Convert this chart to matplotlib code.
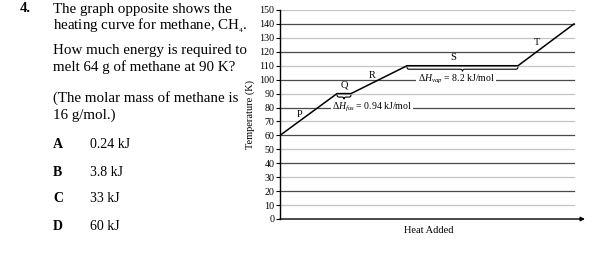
import matplotlib
matplotlib.use("Agg")
import matplotlib.pyplot as plt
from matplotlib.path import Path
from matplotlib.patches import PathPatch

plt.rcParams['font.family'] = ['Liberation Serif', 'DejaVu Serif']
plt.rcParams['mathtext.fontset'] = 'custom'
plt.rcParams['mathtext.rm'] = 'Liberation Serif'
plt.rcParams['mathtext.it'] = 'Liberation Serif:italic'

# Data
heat = [0, 57, 71, 127, 238, 294]
temp = [60, 90, 90, 110, 110, 140]
yticks = list(range(0, 151, 10))
seg_labels = ['P', 'Q', 'R', 'S', 'T']
seg_x = [20, 64, 92, 173, 257]
seg_y = [75, 96, 103, 116, 127]
fus_label = r"$\Delta H_{fus}$ = 0.94 kJ/mol"
vap_label = r"$\Delta H_{vap}$ = 8.2 kJ/mol"
question_lines = ["The graph opposite shows the",
                  "heating curve for methane, CH$_{_4}$.",
                  "How much energy is required to",
                  "melt 64 g of methane at 90 K?",
                  "(The molar mass of methane is",
                  "16 g/mol.)"]
options = ['A', 'B', 'C', 'D']
option_vals = ['0.24 kJ', '3.8 kJ', '33 kJ', '60 kJ']

W, H = 595, 259
fig = plt.figure(figsize=(W/100, H/100), dpi=100)

def fx(px): return px / W
def fy(py): return 1 - py / H

ax = fig.add_axes([fx(280), fy(219), (585-280)/W, (219-10)/H])
ax.set_xlim(0, 305)
ax.set_ylim(0, 150)
for s in ['top', 'right', 'bottom']:
    ax.spines[s].set_visible(False)
ax.spines['left'].set_linewidth(1.0)
ax.set_xticks([])
ax.set_yticks(yticks)
ax.tick_params(axis='y', length=3, width=0.8, labelsize=7.2, pad=1)
ax.set_ylabel('Temperature (K)', fontsize=7.5, labelpad=3)

gx_end = 294
for t in yticks:
    if t == 0:
        continue
    if t % 20 == 0:
        ax.plot([0, gx_end], [t, t], color='#4a4a4a', lw=0.9, zorder=1)
    else:
        ax.plot([0, gx_end], [t, t], color='#c4c4c4', lw=0.9, zorder=1)

# x axis arrow
ax.annotate('', xy=(305, 0), xytext=(0, 0), xycoords='data',
            arrowprops=dict(arrowstyle='-|>', color='black', lw=1.0,
                            mutation_scale=6, shrinkA=0, shrinkB=0),
            annotation_clip=False)
ax.text(149, -8, 'Heat Added', ha='center', va='center', fontsize=7.5)

ax.plot(heat, temp, color='black', lw=1.1, zorder=3)

for lab, x, y in zip(seg_labels, seg_x, seg_y):
    ax.text(x, y, lab, ha='center', va='center', fontsize=7.5, zorder=4)

def brace(x0, x1, y0, d):
    xm = (x0 + x1) / 2
    verts = [(x0, y0), (x0, y0 - d), (x0 + 2, y0 - d),
             (xm - 2, y0 - d), (xm, y0 - d), (xm, y0 - 2*d),
             (xm, y0 - d), (xm + 2, y0 - d),
             (x1 - 2, y0 - d), (x1, y0 - d), (x1, y0)]
    codes = [Path.MOVETO, Path.CURVE3, Path.CURVE3,
             Path.LINETO, Path.CURVE3, Path.CURVE3,
             Path.CURVE3, Path.CURVE3,
             Path.LINETO, Path.CURVE3, Path.CURVE3]
    ax.add_patch(PathPatch(Path(verts, codes), fill=False, lw=0.8,
                           edgecolor='black', zorder=4))

brace(heat[1], heat[2], temp[1] - 1.0, 1.5)
brace(heat[3], heat[4], temp[3] - 1.0, 1.5)

bbox = dict(facecolor='white', edgecolor='none', pad=1.0)
ax.text(92, 80, fus_label, ha='center', va='center', fontsize=7,
        bbox=bbox, zorder=5)
ax.text(176, 100, vap_label, ha='center', va='center', fontsize=7,
        bbox=bbox, zorder=5)

# Question text
fig.text(fx(20), fy(9), '4.', fontsize=10.5, fontweight='bold',
         ha='left', va='center')
line_y = [9, 26, 50, 67, 98, 115]
for s, yy in zip(question_lines, line_y):
    fig.text(fx(53), fy(yy), s, fontsize=10.8, ha='left', va='center')
opt_y = [144, 172, 199, 227]
for o, v, yy in zip(options, option_vals, opt_y):
    fig.text(fx(53), fy(yy), o, fontsize=10, fontweight='bold',
             ha='left', va='center')
    fig.text(fx(90), fy(yy), v, fontsize=10, ha='left', va='center')

fig.savefig('out.png', dpi=100)
